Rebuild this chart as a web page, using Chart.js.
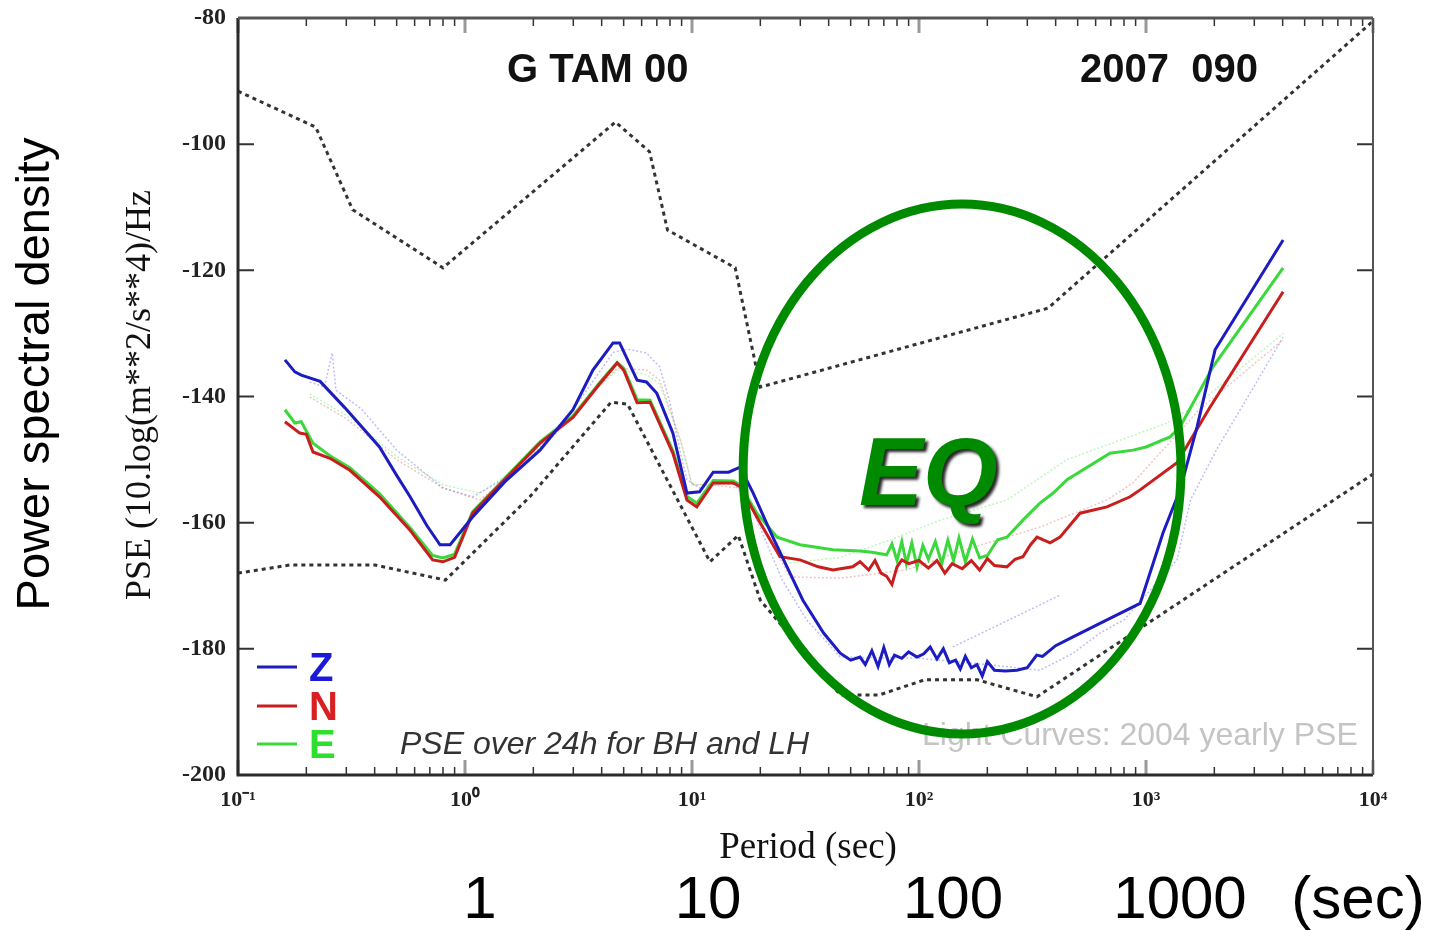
<!DOCTYPE html>
<html>
<head>
<meta charset="utf-8">
<title>PSE G TAM 00</title>
<script src="https://cdn.jsdelivr.net/npm/chart.js@4.4.1/dist/chart.umd.min.js"></script>
<style>
  html, body { margin: 0; padding: 0; background: #fff; }
  canvas { display: block; }
</style>
</head>
<body>
<canvas id="psd" width="1433" height="931"></canvas>
<script>
// --- data: period (s) and power (dB) ---

// Z component (24h, blue)
const zPeriod = [0.161,0.178,0.19,0.23,0.296,0.42,0.5,0.573,0.68,0.776,0.86,1.08,1.5,2.14,2.99,3.66,4.49,4.8,5.73,6.3,7.0,8.24,9.5,10.8,12.4,14.5,16.3,18.6,22.7,30.8,38,45,50,55,58,62,66,70,74,78,84,90,98,105,112,120,128,136,145,152,160,170,180,190,200,215,240,270,300,330,350,400,477,673,942,1189,1413,1679,2015,4018];
const zPower = [-134.2,-136.1,-136.6,-137.6,-141.8,-148.0,-152.5,-155.9,-160.5,-163.5,-163.5,-159.1,-153.5,-148.5,-142.1,-135.8,-131.5,-131.5,-137.4,-137.7,-139.5,-145.8,-155.3,-155.1,-152.0,-152.0,-151.2,-155.3,-162.3,-172.3,-177.5,-180.7,-181.8,-181.3,-182.5,-180.3,-182.8,-179.8,-182.5,-181.0,-181.5,-180.5,-181.3,-180.8,-179.7,-181.6,-180.0,-182.2,-181.8,-183.2,-181.2,-183.0,-182.5,-184.3,-182.0,-183.4,-183.5,-183.4,-183.0,-181.0,-181.2,-179.5,-178.1,-175.4,-172.8,-161.6,-154.8,-144.8,-132.6,-115.2];

// N component (red)
const nPeriod = [0.161,0.187,0.2,0.214,0.254,0.311,0.42,0.573,0.72,0.80,0.90,1.08,1.53,2.14,2.99,3.94,4.68,5.0,5.73,6.53,8.24,9.5,10.5,12.4,15.2,16.3,19.3,24.4,29.9,36,41.8,51,55,60,64,68,72,76,80,84,90,100,110,120,130,140,155,170,185,200,215,244,265,287,310,331,378,418,512,673,851,942,1370,1914,4018];
const nPower = [-144.0,-145.8,-146.0,-148.8,-149.8,-151.7,-155.9,-161.2,-165.9,-166.2,-165.5,-158.5,-152.8,-147.4,-143.3,-137.9,-134.7,-135.8,-141.0,-140.9,-149.0,-156.4,-157.5,-153.7,-153.7,-154.3,-159.1,-165.4,-165.9,-167.0,-167.5,-167.0,-166.2,-167.5,-166.0,-168.0,-168.5,-169.8,-167.0,-165.9,-166.5,-166.0,-167.2,-166.0,-168.0,-166.5,-167.3,-166.0,-167.5,-165.7,-166.8,-167.0,-165.8,-165.4,-163.5,-162.3,-163.2,-162.3,-158.5,-157.5,-155.9,-154.8,-150.5,-141.7,-123.4];

// E component (green)
const ePeriod = [0.161,0.178,0.19,0.214,0.254,0.311,0.42,0.573,0.72,0.80,0.90,1.08,1.53,2.14,2.99,3.94,4.68,5.0,5.73,6.53,8.24,9.5,10.5,12.4,15.2,16.3,19.3,23.7,29.9,41.8,55,62,72,76,80,84,88,93,98,104,110,118,126,134,142,150,160,172,185,200,222,244,287,341,390,449,694,877,1000,1277,1413,1972,4018];
const ePower = [-142.1,-144.2,-144.0,-147.4,-149.4,-151.3,-155.4,-160.8,-165.2,-165.6,-165.0,-158.3,-152.6,-147.2,-143.1,-137.7,-134.6,-135.5,-140.5,-140.6,-148.6,-155.8,-156.9,-153.3,-153.4,-154.0,-158.5,-162.3,-163.5,-164.3,-164.5,-164.7,-165.1,-163.4,-166.0,-163.0,-166.5,-163.2,-167.0,-163.6,-165.8,-163.0,-166.5,-162.8,-166.0,-162.4,-166.2,-162.6,-165.6,-165.2,-162.7,-162.3,-159.6,-156.9,-155.3,-153.2,-149.0,-148.5,-148.0,-146.4,-144.8,-135.3,-119.6];

// light curves: 2004 yearly PSE
const fzPeriod = [0.207,0.24,0.26,0.27,0.35,0.5,0.8,1.08,1.5,2.14,3,4.5,5.2,6.3,7.2,8,8.9,9.5,10.8,15,18,25,32,45,100,200,341,477,627,800,1370,1570,2040,4018];
const fzPower = [-137.7,-138.5,-133.1,-139.0,-142.0,-148.5,-154.5,-155.9,-153.0,-148.0,-142.0,-133.0,-132.5,-133.1,-135.3,-141.0,-149.0,-153.2,-154.5,-153.5,-157.0,-169.1,-175.4,-181.3,-181.5,-182.5,-183.4,-180.7,-177.5,-175.4,-165.9,-156.4,-148.5,-130.6];
const fzSpurPeriod = [141, 418];
const fzSpurPower = [-179.7, -171.5];
const fnPeriod = [0.207,0.3,0.5,0.8,1.16,1.6,2.5,3.5,4.7,6.3,7.2,8.9,10,12,16,20,27,45,88,173,341,673,877,1714,4018];
const fnPower = [-140.1,-143.5,-150.0,-154.5,-156.4,-152.5,-146.0,-140.0,-135.5,-135.8,-137.4,-146.9,-154.0,-154.0,-154.5,-160.0,-168.6,-168.8,-167.5,-163.9,-160.7,-156.4,-153.7,-142.1,-131.0];
const fePeriod = [0.207,0.3,0.5,0.8,1.16,1.6,2.5,3.5,4.7,6.3,7.2,8.9,10,12,16,20,27,45,74,124,244,449,1240,1714,4018];
const fePower = [-139.6,-143.0,-149.5,-154.0,-155.3,-152.0,-145.8,-140.0,-135.8,-136.5,-138.0,-147.0,-154.0,-154.0,-154.0,-159.0,-166.4,-165.5,-162.8,-159.6,-156.4,-150.0,-144.2,-141.0,-130.0];

// noise models (dotted)
const hiPeriod = [0.1,0.22,0.32,0.8,4.6,6.5,7.8,15.5,20,370,10000];
const hiPower = [-91.6,-97.3,-110.4,-119.6,-96.5,-101.2,-113.6,-119.6,-138.5,-126.0,-80.5];
const loPeriod = [0.1,0.17,0.4,0.82,1.93,4.4,5.2,12,16,20,45,67,106,180,331,10000];
const loPower = [-168.0,-166.7,-166.7,-169.1,-155.9,-140.9,-141.2,-166.2,-162.0,-172.3,-187.3,-187.3,-184.9,-184.9,-187.6,-152.3];

// ticks
const xDecades = [0.1, 1, 10, 100, 1000, 10000];
const xTickLabels = ['10\u207B\u00B9', '10\u2070', '10\u00B9', '10\u00B2', '10\u00B3', '10\u2074'];
const yTicks = [-200, -180, -160, -140, -120, -100, -80];

// annotation placement (data coordinates)
const eqMark = { left: 16.8, right: 1426, top: -109.5, bottom: -193.5, textX: 110, textY: -153 };

// --- helpers ---
function pts(px, py) {
  return px.map((p, i) => ({ x: p, y: py[i] }));
}
function isDecade(v) {
  const l = Math.log10(v);
  return Math.abs(l - Math.round(l)) < 1e-6;
}
// all log ticks: 1..9 per decade
const xTicks = [];
xDecades.slice(0, -1).forEach(d => {
  for (let m = 1; m <= 9; m++) xTicks.push(m * d);
});
xTicks.push(10000);

const serif = '"Liberation Serif", "Times New Roman", serif';
const sans = '"Liberation Sans", Arial, Helvetica, sans-serif';

function mainLine(label, px, py, color, order) {
  return { label, data: pts(px, py), borderColor: color, borderWidth: 3,
           pointRadius: 0, tension: 0, fill: false, order };
}
function faintLine(label, px, py, color) {
  return { label, data: pts(px, py), borderColor: color, borderWidth: 1.5,
           borderDash: [2, 2], pointRadius: 0, tension: 0, fill: false, order: 10 };
}
function modelLine(label, px, py) {
  return { label, data: pts(px, py), borderColor: '#333', borderWidth: 3,
           borderDash: [4, 4], pointRadius: 0, tension: 0, fill: false, order: 5 };
}

// frame, inward ticks and text
const decorations = {
  id: 'decorations',
  afterDraw(chart) {
    const { ctx, chartArea: a, scales: { x, y } } = chart;
    ctx.save();

    // inward tick marks on all four sides
    x.ticks.forEach(t => {
      const px = x.getPixelForValue(t.value);
      const major = isDecade(t.value);
      ctx.strokeStyle = major ? '#9a9a9a' : '#333';
      ctx.lineWidth = major ? 3 : 1.5;
      const len = major ? 15 : 8;
      ctx.beginPath();
      ctx.moveTo(px, a.bottom); ctx.lineTo(px, a.bottom - len);
      ctx.moveTo(px, a.top); ctx.lineTo(px, a.top + len);
      ctx.stroke();
    });
    y.ticks.forEach(t => {
      const py = y.getPixelForValue(t.value);
      ctx.strokeStyle = '#333';
      ctx.lineWidth = 2;
      ctx.beginPath();
      ctx.moveTo(a.left, py); ctx.lineTo(a.left + 16, py);
      ctx.moveTo(a.right, py); ctx.lineTo(a.right - 16, py);
      ctx.stroke();
    });

    // frame
    ctx.strokeStyle = '#2a2a2a';
    ctx.lineWidth = 3;
    ctx.beginPath();
    ctx.moveTo(a.left, a.top); ctx.lineTo(a.left, a.bottom); ctx.lineTo(a.right, a.bottom);
    ctx.stroke();
    ctx.strokeStyle = '#555';
    ctx.beginPath();
    ctx.moveTo(a.left, a.top); ctx.lineTo(a.right, a.top);
    ctx.stroke();
    ctx.lineWidth = 2;
    ctx.beginPath();
    ctx.moveTo(a.right, a.top); ctx.lineTo(a.right, a.bottom);
    ctx.stroke();

    // header texts
    ctx.fillStyle = '#111';
    ctx.font = 'bold 40px ' + sans;
    ctx.textAlign = 'left';
    ctx.textBaseline = 'alphabetic';
    ctx.fillText('G TAM 00', 507, 82);
    ctx.fillText('2007  090', 1080, 82);

    // legend
    const legendRows = [
      { name: 'Z', line: '#1c1cc0', text: '#1a1ad8', y: 667 },
      { name: 'N', line: '#c81e1e', text: '#d82020', y: 706 },
      { name: 'E', line: '#3ad83a', text: '#2ee02e', y: 744 }
    ];
    ctx.font = 'bold 40px "Liberation Sans Narrow", ' + sans;
    legendRows.forEach(r => {
      ctx.strokeStyle = r.line;
      ctx.lineWidth = 3;
      ctx.beginPath();
      ctx.moveTo(257, r.y); ctx.lineTo(297, r.y);
      ctx.stroke();
      ctx.fillStyle = r.text;
      ctx.fillText(r.name, 309, r.y + 14);
    });

    ctx.fillStyle = '#333';
    ctx.font = 'italic 32px ' + sans;
    ctx.fillText('PSE over 24h for BH and LH', 400, 754);

    ctx.fillStyle = '#c4c4c4';
    ctx.font = '32px ' + sans;
    ctx.fillText('Light Curves: 2004 yearly PSE', 922, 745);

    // EQ ellipse
    const l = x.getPixelForValue(eqMark.left), r = x.getPixelForValue(eqMark.right);
    const t = y.getPixelForValue(eqMark.top), b = y.getPixelForValue(eqMark.bottom);
    ctx.strokeStyle = '#008a00';
    ctx.lineWidth = 9;
    ctx.beginPath();
    ctx.ellipse((l + r) / 2, (t + b) / 2, (r - l) / 2, (b - t) / 2, 0, 0, Math.PI * 2);
    ctx.stroke();

    ctx.save();
    ctx.font = 'italic bold 96px ' + sans;
    ctx.textAlign = 'center';
    ctx.textBaseline = 'middle';
    ctx.shadowColor = 'rgba(0,0,0,0.85)';
    ctx.shadowOffsetX = 3;
    ctx.shadowOffsetY = 3;
    ctx.shadowBlur = 3;
    ctx.fillStyle = '#008a00';
    ctx.fillText('EQ', x.getPixelForValue(eqMark.textX), y.getPixelForValue(eqMark.textY));
    ctx.restore();

    // axis titles
    ctx.fillStyle = '#111';
    ctx.textAlign = 'center';
    ctx.textBaseline = 'alphabetic';
    ctx.font = '37px ' + serif;
    ctx.fillText('Period (sec)', 808, 858);

    ctx.save();
    ctx.translate(150, 395);
    ctx.rotate(-Math.PI / 2);
    ctx.font = '36px ' + serif;
    ctx.fillText('PSE (10.log(m**2/s**4)/Hz', 0, 0);
    ctx.restore();

    ctx.save();
    ctx.translate(49, 374);
    ctx.rotate(-Math.PI / 2);
    ctx.fillStyle = '#000';
    ctx.font = '47px ' + sans;
    ctx.fillText('Power spectral density', 0, 0);
    ctx.restore();

    // big period labels under the plot
    ctx.fillStyle = '#000';
    ctx.font = '60px ' + sans;
    [['1', 480], ['10', 708], ['100', 953], ['1000', 1180], ['(sec)', 1358]].forEach(([s, px]) => {
      ctx.fillText(s, px, 918);
    });

    ctx.restore();
  }
};

const ctx = document.getElementById('psd').getContext('2d');

new Chart(ctx, {
  type: 'line',
  data: {
    datasets: [
      mainLine('Z', zPeriod, zPower, '#1c1cc0', 1),
      mainLine('N', nPeriod, nPower, '#c81e1e', 2),
      mainLine('E', ePeriod, ePower, '#3ad83a', 3),
      modelLine('NHNM', hiPeriod, hiPower),
      modelLine('NLNM', loPeriod, loPower),
      faintLine('Z 2004', fzPeriod, fzPower, 'rgba(110,110,235,0.45)'),
      faintLine('Z 2004 b', fzSpurPeriod, fzSpurPower, 'rgba(110,110,235,0.45)'),
      faintLine('N 2004', fnPeriod, fnPower, 'rgba(235,120,120,0.45)'),
      faintLine('E 2004', fePeriod, fePower, 'rgba(110,235,110,0.45)')
    ]
  },
  options: {
    responsive: false,
    animation: false,
    layout: { padding: { left: 0, right: 60, top: 18, bottom: 0 } },
    plugins: {
      legend: { display: false },
      tooltip: { enabled: false }
    },
    scales: {
      x: {
        type: 'logarithmic',
        min: 0.1,
        max: 10000,
        afterBuildTicks: s => { s.ticks = xTicks.map(v => ({ value: v })); },
        afterFit: s => { s.height = 156; s.paddingLeft = 0; s.paddingRight = 0; },
        grid: { display: false, drawTicks: false },
        border: { display: false },
        ticks: {
          autoSkip: false,
          maxRotation: 0,
          padding: 12,
          color: '#222',
          font: { family: serif, size: 22, weight: 'bold' },
          callback: v => {
            const i = xDecades.findIndex(d => Math.abs(d - v) / d < 1e-6);
            return i >= 0 ? xTickLabels[i] : '';
          }
        }
      },
      y: {
        type: 'linear',
        min: -200,
        max: -80,
        afterBuildTicks: s => { s.ticks = yTicks.map(v => ({ value: v })); },
        afterFit: s => { s.width = 238; s.paddingTop = 0; s.paddingBottom = 0; },
        grid: { display: false, drawTicks: false },
        border: { display: false },
        ticks: {
          padding: 12,
          color: '#222',
          font: { family: serif, size: 24, weight: 'bold' }
        }
      }
    }
  },
  plugins: [decorations]
});
</script>
</body>
</html>
